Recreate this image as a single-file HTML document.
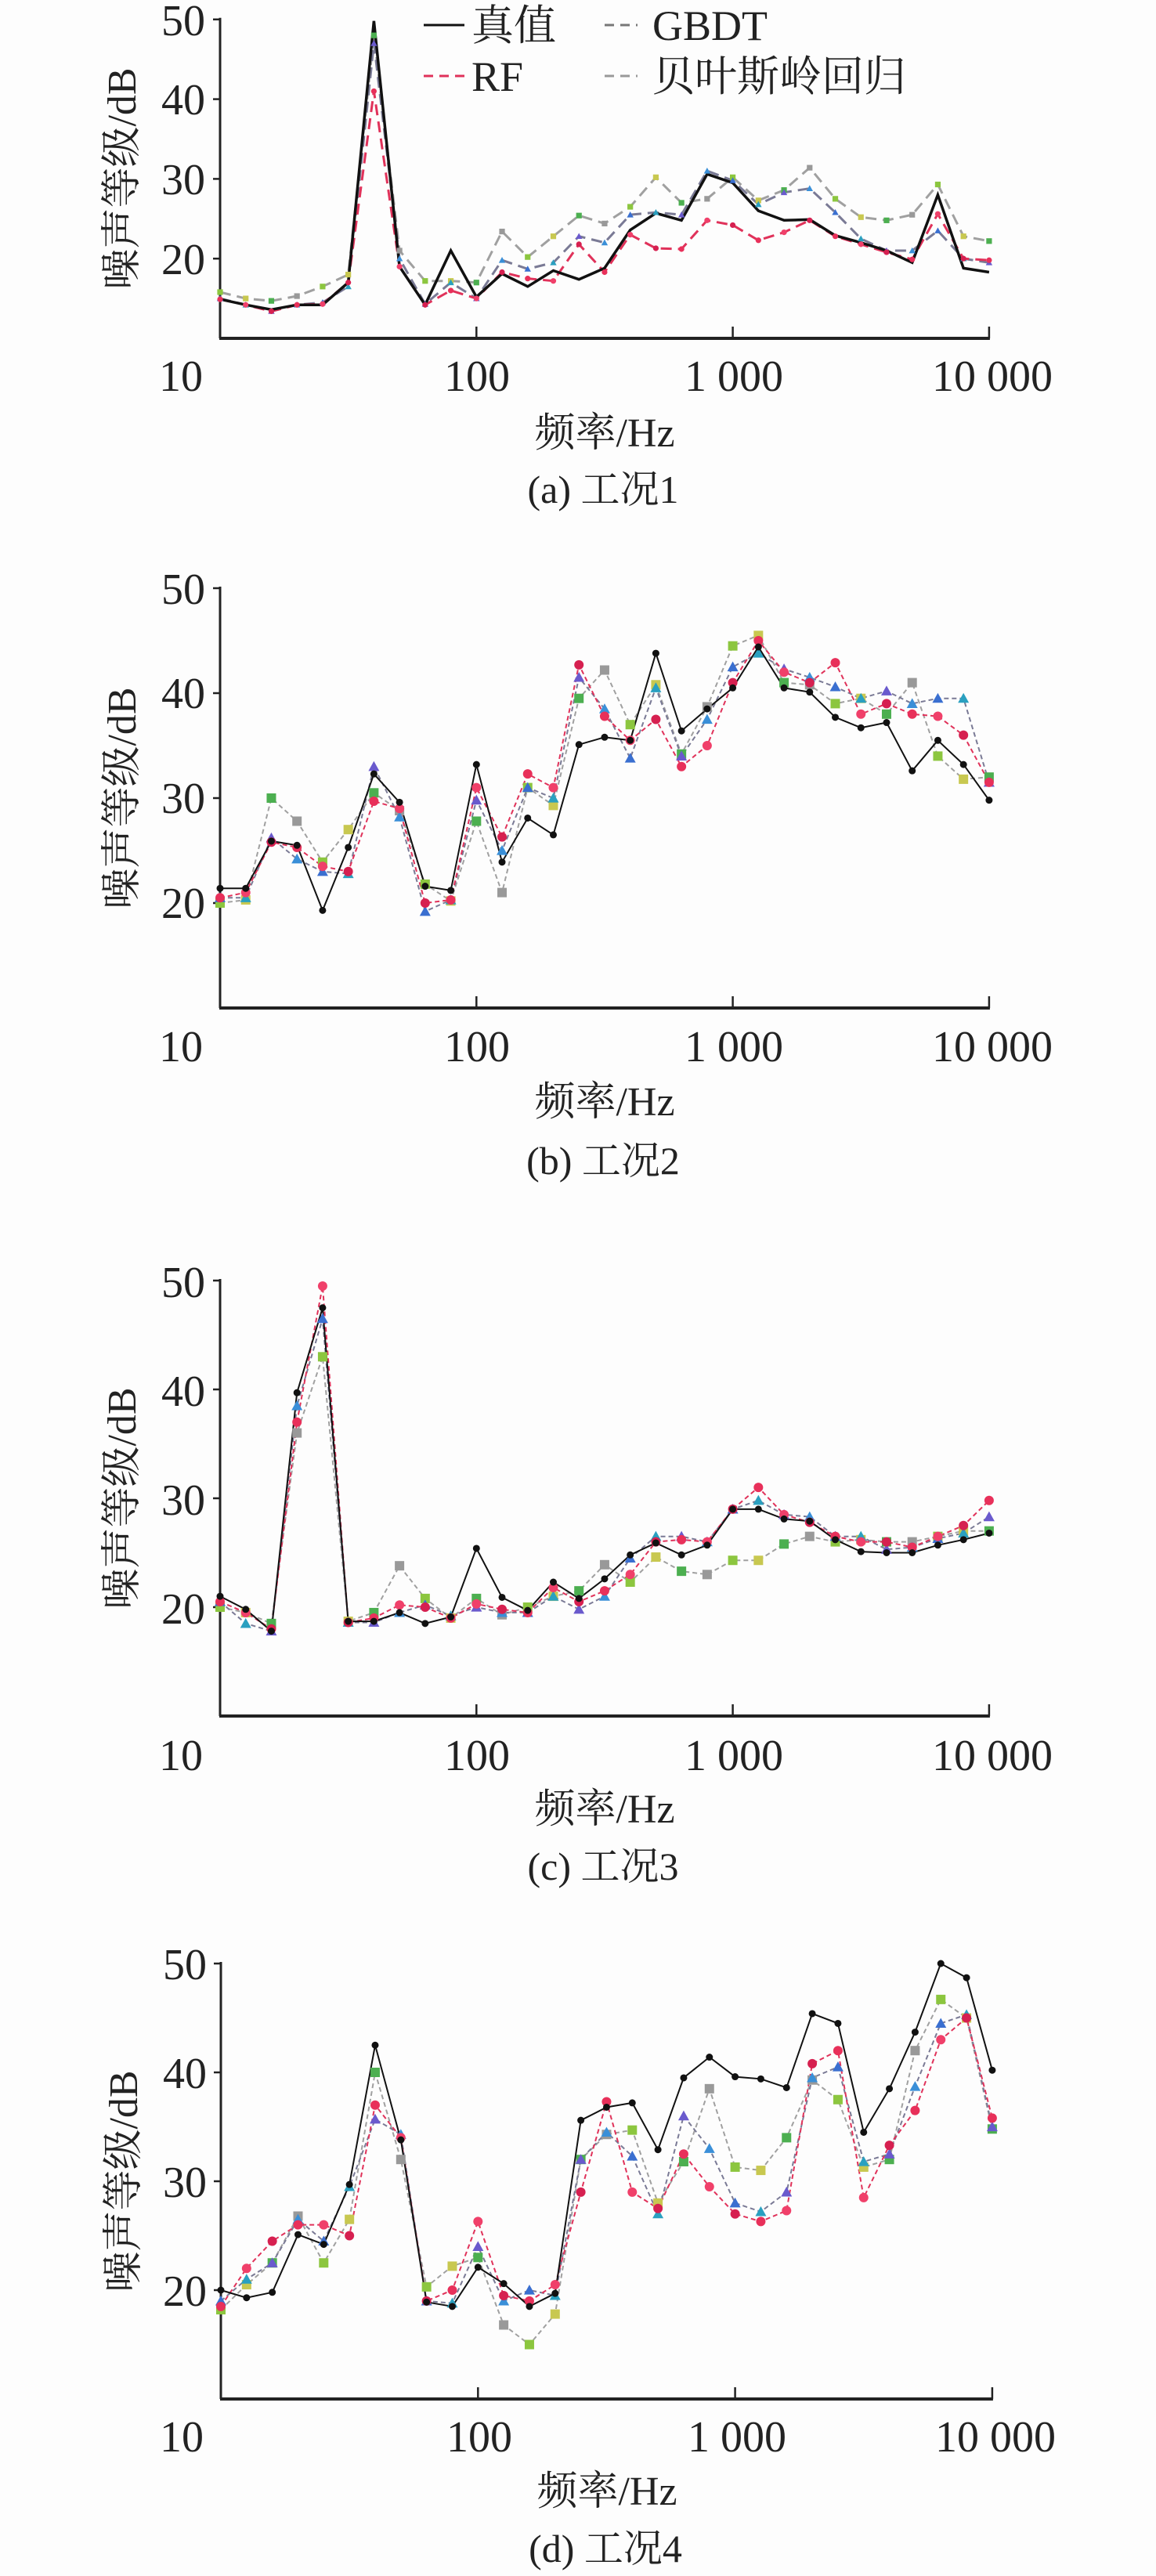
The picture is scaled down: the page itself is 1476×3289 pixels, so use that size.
<!DOCTYPE html>
<html><head><meta charset="utf-8"><style>
html,body{margin:0;padding:0;background:#fdfdfd;}
svg{display:block;}
.t{font-family:"Liberation Serif","Noto Serif CJK SC",serif;fill:#222;}
</style></head><body>
<svg id="s" width="1476" height="3289" viewBox="0 0 1476 3289" xmlns="http://www.w3.org/2000/svg">
<rect width="1476" height="3289" fill="#fdfdfd"/>
<g id="plots"></g>
<!-- legend -->
<line x1="541" y1="32" x2="593" y2="32" stroke="#111" stroke-width="3"/>
<line x1="541" y1="97" x2="593" y2="97" stroke="#e0325a" stroke-width="3" stroke-dasharray="12,8"/>
<line x1="772" y1="32" x2="814" y2="32" stroke="#777" stroke-width="3" stroke-dasharray="12,8"/>
<line x1="772" y1="97" x2="814" y2="97" stroke="#999" stroke-width="3" stroke-dasharray="12,8"/>
<text class="t" x="602" y="51" font-size="54">真值</text>
<text class="t" x="833" y="51" font-size="54">GBDT</text>
<text class="t" x="602" y="116" font-size="54">RF</text>
<text class="t" x="833" y="116" font-size="54">贝叶斯岭回归</text>

<!-- panel a text -->
<g class="t" font-size="56" text-anchor="end">
<text x="262" y="45">50</text><text x="262" y="146">40</text><text x="262" y="248">30</text><text x="262" y="350">20</text>
</g>
<g class="t" font-size="56" text-anchor="middle">
<text x="231" y="499">10</text><text x="609" y="499">100</text><text x="937" y="499">1 000</text><text x="1267" y="499">10 000</text>
</g>
<text class="t" font-size="52" text-anchor="middle" transform="translate(173,228) rotate(-90)">噪声等级/dB</text>
<text class="t" font-size="52" x="772" y="570" text-anchor="middle">频率/Hz</text>
<text class="t" font-size="50" x="770" y="642" text-anchor="middle">(a) 工况1</text>

<!-- panel b text -->
<g class="t" font-size="56" text-anchor="end">
<text x="262" y="771">50</text><text x="262" y="904">40</text><text x="262" y="1038">30</text><text x="262" y="1172">20</text>
</g>
<g class="t" font-size="56" text-anchor="middle">
<text x="231" y="1355">10</text><text x="609" y="1355">100</text><text x="937" y="1355">1 000</text><text x="1267" y="1355">10 000</text>
</g>
<text class="t" font-size="52" text-anchor="middle" transform="translate(173,1019) rotate(-90)">噪声等级/dB</text>
<text class="t" font-size="52" x="772" y="1424" text-anchor="middle">频率/Hz</text>
<text class="t" font-size="50" x="770" y="1499" text-anchor="middle">(b) 工况2</text>

<!-- panel c text -->
<g class="t" font-size="56" text-anchor="end">
<text x="262" y="1656">50</text><text x="262" y="1795">40</text><text x="262" y="1934">30</text><text x="262" y="2073">20</text>
</g>
<g class="t" font-size="56" text-anchor="middle">
<text x="231" y="2260">10</text><text x="609" y="2260">100</text><text x="937" y="2260">1 000</text><text x="1267" y="2260">10 000</text>
</g>
<text class="t" font-size="52" text-anchor="middle" transform="translate(173,1913) rotate(-90)">噪声等级/dB</text>
<text class="t" font-size="52" x="772" y="2327" text-anchor="middle">频率/Hz</text>
<text class="t" font-size="50" x="770" y="2400" text-anchor="middle">(c) 工况3</text>

<!-- panel d text -->
<g class="t" font-size="56" text-anchor="end">
<text x="264" y="2527">50</text><text x="264" y="2666">40</text><text x="264" y="2805">30</text><text x="264" y="2944">20</text>
</g>
<g class="t" font-size="56" text-anchor="middle">
<text x="232" y="3130">10</text><text x="612" y="3130">100</text><text x="941" y="3130">1 000</text><text x="1271" y="3130">10 000</text>
</g>
<text class="t" font-size="52" text-anchor="middle" transform="translate(175,2785) rotate(-90)">噪声等级/dB</text>
<text class="t" font-size="52" x="775" y="3198" text-anchor="middle">频率/Hz</text>
<text class="t" font-size="50" x="773" y="3271" text-anchor="middle">(d) 工况4</text>
</svg>
<script>
var P=[
{x0:281,dx:32.73,y10:432,k:10.18,small:true,
T:[14.9,14.2,13.6,14.2,14.2,17,49.8,19,14.2,21,15.2,18.1,16.5,18.5,17.4,18.8,23.6,25.7,24.8,30.6,29.5,26,24.8,24.9,22.9,22,21,19.5,28,18.8,18.3],
R:[14.9,14.2,13.4,14.2,14.3,17,41,19,14.2,16,15,18.3,17.5,17.2,21.8,18.3,23,21.3,21.2,24.8,24.2,22.3,23.3,24.8,22.8,21.8,20.8,19.9,25.6,20,19.8],
G:[15,14.2,13.4,14.2,14.5,16.5,47,20,14.3,17,15,19.8,18.7,19.5,22.8,22,25.5,25.8,25.5,31,29.8,26.8,28.3,28.8,25.8,22.5,21,21,23.5,20,19.5],
B:[15.8,15,14.7,15.3,16.5,18,48,21,17.2,17.2,17,23.4,20.2,22.8,25.4,24.4,26.5,30.2,27,27.5,30.2,27.3,28.6,31.4,27.5,25.2,24.8,25.5,29.3,22.8,22.2]},
{x0:281,dx:32.73,y10:1287,k:13.4,
T:[21.4,21.4,25.9,25.5,19.3,25.3,32.3,29.6,21.6,21.2,33.2,23.9,28.1,26.5,35.1,35.8,35.5,43.8,36.4,38.5,40.5,44.4,40.5,40.1,37.7,36.7,37.2,32.6,35.5,33.2,29.8],
R:[20.5,21,25.8,25.3,23.5,23,29.7,29,20,20.3,31,26.3,32.3,31,42.7,37.8,35.5,37.5,33,35,41,45,42,41,42.9,38,39,38,37.8,36,31.5],
G:[20.5,20.5,26.2,24.2,23,22.8,33,28.2,19.2,20.3,29.8,25,31,30,41.5,38.5,33.8,40.5,34,37.5,42.5,43.8,42.3,41.5,40.6,39.5,40.2,39,39.5,39.5,31.5],
B:[20,20.3,30,27.8,23.9,27,30.5,28.8,21.8,20.2,27.8,21,31,29.3,39.5,42.2,37,40.8,34.2,38.7,44.5,45.5,41,40.8,39,39.5,38,41,34,31.8,32]},
{x0:281,dx:32.73,y10:2191,k:13.9,
T:[21,19.8,17.8,39.7,47.5,18.7,18.7,19.5,18.5,19.1,25.4,20.9,19.7,22.3,20.8,22.6,24.8,25.9,24.8,25.7,29,29,28.1,27.9,26.2,25.1,25,25,25.7,26.2,26.8],
R:[20.5,19.5,18,37,49.5,18.6,19,20.2,20,19,20.3,19.8,19.5,21.8,20.5,21.5,23,26,26.2,26,29,31,28.5,27.8,26.5,26,26,25.5,26.5,27.5,29.8],
G:[20.5,18.5,17.8,38.5,46.5,18.6,18.6,19.5,20.2,19.2,20,19.5,19.5,21,19.8,21,24.5,26.5,26.5,26,29,29.8,28.5,28.3,26.5,26.5,25.3,25.5,26.3,26.8,28.3],
B:[20,19.5,18.5,36,43,18.7,19.5,23.8,20.8,19,20.8,19.3,20,21,21.5,23.9,22.3,24.6,23.3,23,24.3,24.3,25.8,26.5,26,26.2,26,26,26.5,27,27]},
{x0:282,dx:32.83,y10:3063,k:13.9,
T:[20,19.3,19.8,25.1,24.2,29.7,42.5,33.8,18.9,18.5,22.1,20.6,18.5,19.7,35.6,36.8,37.2,32.9,39.5,41.4,39.6,39.4,38.6,45.4,44.5,34.5,38.5,43.7,50,48.7,40.2],
R:[18.5,22,24.5,26,26,25,37,34,19,20,26.3,19.5,19,20.5,29,37.3,29,27.5,32.5,29.5,27,26.3,27.3,40.8,42,28.5,33.3,36.5,43,45,35.8],
G:[19,21,22.5,26.5,24.5,29.5,35.7,34.3,19,18.8,24,19,20,19.5,32,34.5,32.3,27,36,33,28,27.2,29,39.5,40.5,31.8,32.5,38.7,44.5,45.3,35],
B:[18.2,20.5,22.5,26.8,22.5,26.5,40,32,20.3,22.2,23,16.8,15,17.8,32,34.3,34.7,28,31.8,38.5,31.3,31,34,39.3,37.5,31.3,32,42,46.7,45,34.8]}
];
var NS="http://www.w3.org/2000/svg",g=document.getElementById("plots");
function el(n,a){var e=document.createElementNS(NS,n);for(var k in a)e.setAttribute(k,a[k]);g.appendChild(e);return e;}
var mcR=["#e8305a","#f0406a","#d62050"],mcG=["#3a6fd0","#2aa0c0","#6a5acd","#3a8fd8"],mcB=["#8cc63f","#c8c850","#4caf50","#999999"];
P.forEach(function(p){
 var X=function(i){return p.x0+i*p.dx},Y=function(v){return p.y10-(v-10)*p.k};
 var xe=p.x0+30*p.dx;
 // axes
 el("line",{x1:p.x0,y1:Y(50)-2,x2:p.x0,y2:p.y10,stroke:"#222","stroke-width":3});
 el("line",{x1:p.x0-1,y1:p.y10,x2:xe+1,y2:p.y10,stroke:"#222","stroke-width":4});
 [20,30,40,50].forEach(function(v){el("line",{x1:p.x0-9,y1:Y(v),x2:p.x0,y2:Y(v),stroke:"#222","stroke-width":2.5});});
 [1,2,3].forEach(function(d){var x=p.x0+d*10*p.dx;el("line",{x1:x,y1:p.y10,x2:x,y2:p.y10-15,stroke:"#222","stroke-width":2.5});});
 var sw=p.small?3:2;
 function pts(a){return a.map(function(v,i){return X(i).toFixed(1)+","+Y(v).toFixed(1)}).join(" ");}
 el("polyline",{points:pts(p.B),fill:"none",stroke:"#a0a0a0","stroke-width":sw,"stroke-dasharray":p.small?"14,8":"6,4"});
 el("polyline",{points:pts(p.G),fill:"none",stroke:"#7a7a95","stroke-width":sw,"stroke-dasharray":p.small?"14,8":"6,4"});
 el("polyline",{points:pts(p.R),fill:"none",stroke:"#e0325a","stroke-width":sw,"stroke-dasharray":p.small?"14,8":"6,4"});
 el("polyline",{points:pts(p.T),fill:"none",stroke:"#111","stroke-width":p.small?3.5:2});
 var s=p.small?0.6:1;
 p.B.forEach(function(v,i){var x=X(i),y=Y(v),r=6*s;el("rect",{x:x-r,y:y-r,width:2*r,height:2*r,fill:mcB[i%4]});});
 p.G.forEach(function(v,i){var x=X(i),y=Y(v),r=7*s;el("polygon",{points:(x)+","+(y-r)+" "+(x-r)+","+(y+r*0.8)+" "+(x+r)+","+(y+r*0.8),fill:mcG[i%4]});});
 p.R.forEach(function(v,i){var x=X(i),y=Y(v),r=6*s;el("circle",{cx:x,cy:y,r:r,fill:mcR[i%3]});});
 if(!p.small)p.T.forEach(function(v,i){el("circle",{cx:X(i),cy:Y(v),r:4.5,fill:"#111"});});
});
</script>
</body></html>
